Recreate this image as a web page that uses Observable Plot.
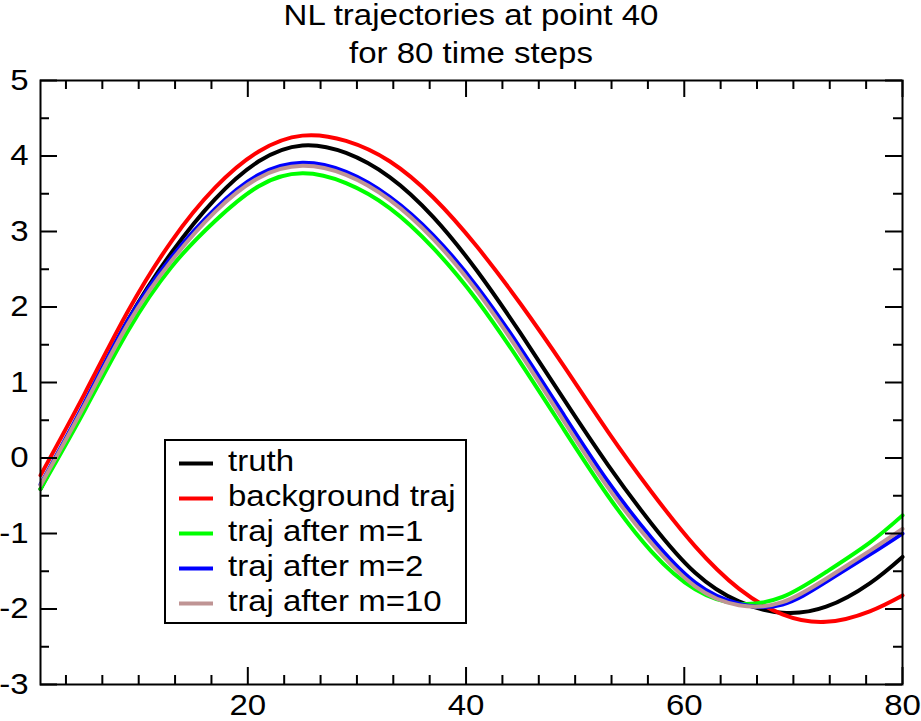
<!DOCTYPE html>
<html><head><meta charset="utf-8">
<script src="https://cdn.jsdelivr.net/npm/d3@7"></script>
<script src="https://cdn.jsdelivr.net/npm/@observablehq/plot@0.6"></script>
<style>body{margin:0;background:#fff;} svg{display:block;}</style>
</head><body><div id="chart"></div>
<script>
// ---- data ----
const steps      = [1, 5, 9, 13, 17, 21, 25, 29, 33, 37, 41, 45, 49, 53, 57, 61, 65, 69, 73, 77, 80];
const truth      = [-0.41, 0.70, 1.82, 2.72, 3.43, 3.93, 4.14, 4.04, 3.72, 3.19, 2.48, 1.65, 0.77, -0.09, -0.87, -1.52, -1.90, -2.05, -1.97, -1.66, -1.31];
const background = [-0.23, 0.84, 1.94, 2.87, 3.58, 4.06, 4.27, 4.20, 3.93, 3.45, 2.80, 2.04, 1.21, 0.35, -0.45, -1.17, -1.73, -2.07, -2.17, -2.03, -1.82];
const afterM1    = [-0.41, 0.62, 1.68, 2.53, 3.14, 3.60, 3.77, 3.64, 3.31, 2.78, 2.09, 1.26, 0.37, -0.50, -1.24, -1.74, -1.93, -1.84, -1.51, -1.12, -0.76];
const afterM2    = [-0.35, 0.72, 1.82, 2.66, 3.30, 3.75, 3.91, 3.79, 3.46, 2.95, 2.27, 1.45, 0.56, -0.31, -1.06, -1.65, -1.93, -1.94, -1.64, -1.28, -1.00];
const afterM10   = [-0.36, 0.69, 1.77, 2.61, 3.26, 3.71, 3.87, 3.75, 3.42, 2.90, 2.21, 1.38, 0.48, -0.39, -1.13, -1.70, -1.95, -1.91, -1.60, -1.23, -0.94];

const seriesNames  = ["truth", "background traj", "traj after m=1", "traj after m=2", "traj after m=10"];
const seriesColors = ["#000000", "#ff0000", "#00ff00", "#0000ff", "#bf9494"];
const seriesValues = [truth, background, afterM1, afterM2, afterM10];

const titleLines = ["NL trajectories at point 40", "for 80 time steps"];
const xMajor = [20, 40, 60, 80];
const xMinor = [3.333, 6.667, 10, 13.333, 16.667, 23.333, 26.667, 30, 33.333, 36.667, 43.333, 46.667, 50, 53.333, 56.667, 63.333, 66.667, 70, 73.333, 76.667];
const yMajor = [-3, -2, -1, 0, 1, 2, 3, 4, 5];
const yMinor = [-2.5, -1.5, -0.5, 0.5, 1.5, 2.5, 3.5, 4.5];

// ---- build table ----
const rows = seriesNames.flatMap((name, i) => steps.map((t, j) => ({series: name, t, v: seriesValues[i][j]})));

const W = 921, H = 721, mL = 40, mR = 19, mT = 80, mB = 37;
const fw = W - mL - mR, fh = H - mT - mB;
const FONT = 29, STRETCH = 1.138;
const majorLen = 17, minorLen = 9;

const plot = Plot.plot({
  width: W, height: H,
  marginLeft: mL, marginRight: mR, marginTop: mT, marginBottom: mB,
  style: {fontFamily: "'Liberation Sans', Arial, Helvetica, sans-serif", fontSize: FONT + "px", background: "#fff", color: "#000", overflow: "visible"},
  x: {domain: [1, 80]},
  y: {domain: [-3, 5]},
  color: {domain: seriesNames, range: seriesColors},
  marks: [
    ...seriesNames.map(name => Plot.line(rows.filter(d => d.series === name), {x: "t", y: "v", stroke: "series", strokeWidth: 4, curve: "natural"})),
    // inward ticks on all four sides
    Plot.ruleX(xMajor, {insetTop: fh - majorLen, strokeWidth: 2}),
    Plot.ruleX(xMajor, {insetBottom: fh - majorLen, strokeWidth: 2}),
    Plot.ruleX(xMinor, {insetTop: fh - minorLen, strokeWidth: 2}),
    Plot.ruleX(xMinor, {insetBottom: fh - minorLen, strokeWidth: 2}),
    Plot.ruleY(yMajor, {insetRight: fw - majorLen, strokeWidth: 2}),
    Plot.ruleY(yMajor, {insetLeft: fw - majorLen, strokeWidth: 2}),
    Plot.ruleY(yMinor, {insetRight: fw - minorLen, strokeWidth: 2}),
    Plot.ruleY(yMinor, {insetLeft: fw - minorLen, strokeWidth: 2}),
    Plot.frame({strokeWidth: 2, stroke: "#000"}),
    Plot.axisX(xMajor, {tickSize: 0, tickPadding: 10, tickFormat: d => String(d), label: null, fill: "#000"}),
    Plot.axisY(yMajor, {tickSize: 0, tickPadding: 12, tickFormat: d => String(d), label: null, fill: "#000"})
  ]
});

document.getElementById("chart").appendChild(plot);
const svg = d3.select(plot);

// title
const tg = svg.append("g").attr("text-anchor", "middle").attr("fill", "#000");
titleLines.forEach((s, i) => tg.append("text").attr("x", mL + fw / 2).attr("y", 25 + i * 38).text(s));

// legend
const lg = svg.append("g").attr("text-anchor", "start");
lg.append("rect").attr("x", 165).attr("y", 440).attr("width", 301).attr("height", 183)
  .attr("fill", "#fff").attr("stroke", "#000").attr("stroke-width", 2);
seriesNames.forEach((name, i) => {
  const y = 463.5 + i * 35;
  lg.append("line").attr("x1", 179).attr("x2", 213).attr("y1", y).attr("y2", y)
    .attr("stroke", seriesColors[i]).attr("stroke-width", 4);
  lg.append("text").attr("x", 228).attr("y", y + 7.5).attr("fill", "#000")
    .attr("text-anchor", "start").text(name);
});

// horizontal widening of the text to match the reference's wide Helvetica
svg.selectAll("text").each(function() {
  const L = this.getComputedTextLength();
  if (L > 0) {
    this.setAttribute("textLength", (L * STRETCH).toFixed(2));
    this.setAttribute("lengthAdjust", "spacingAndGlyphs");
  }
});
</script>
</body></html>
